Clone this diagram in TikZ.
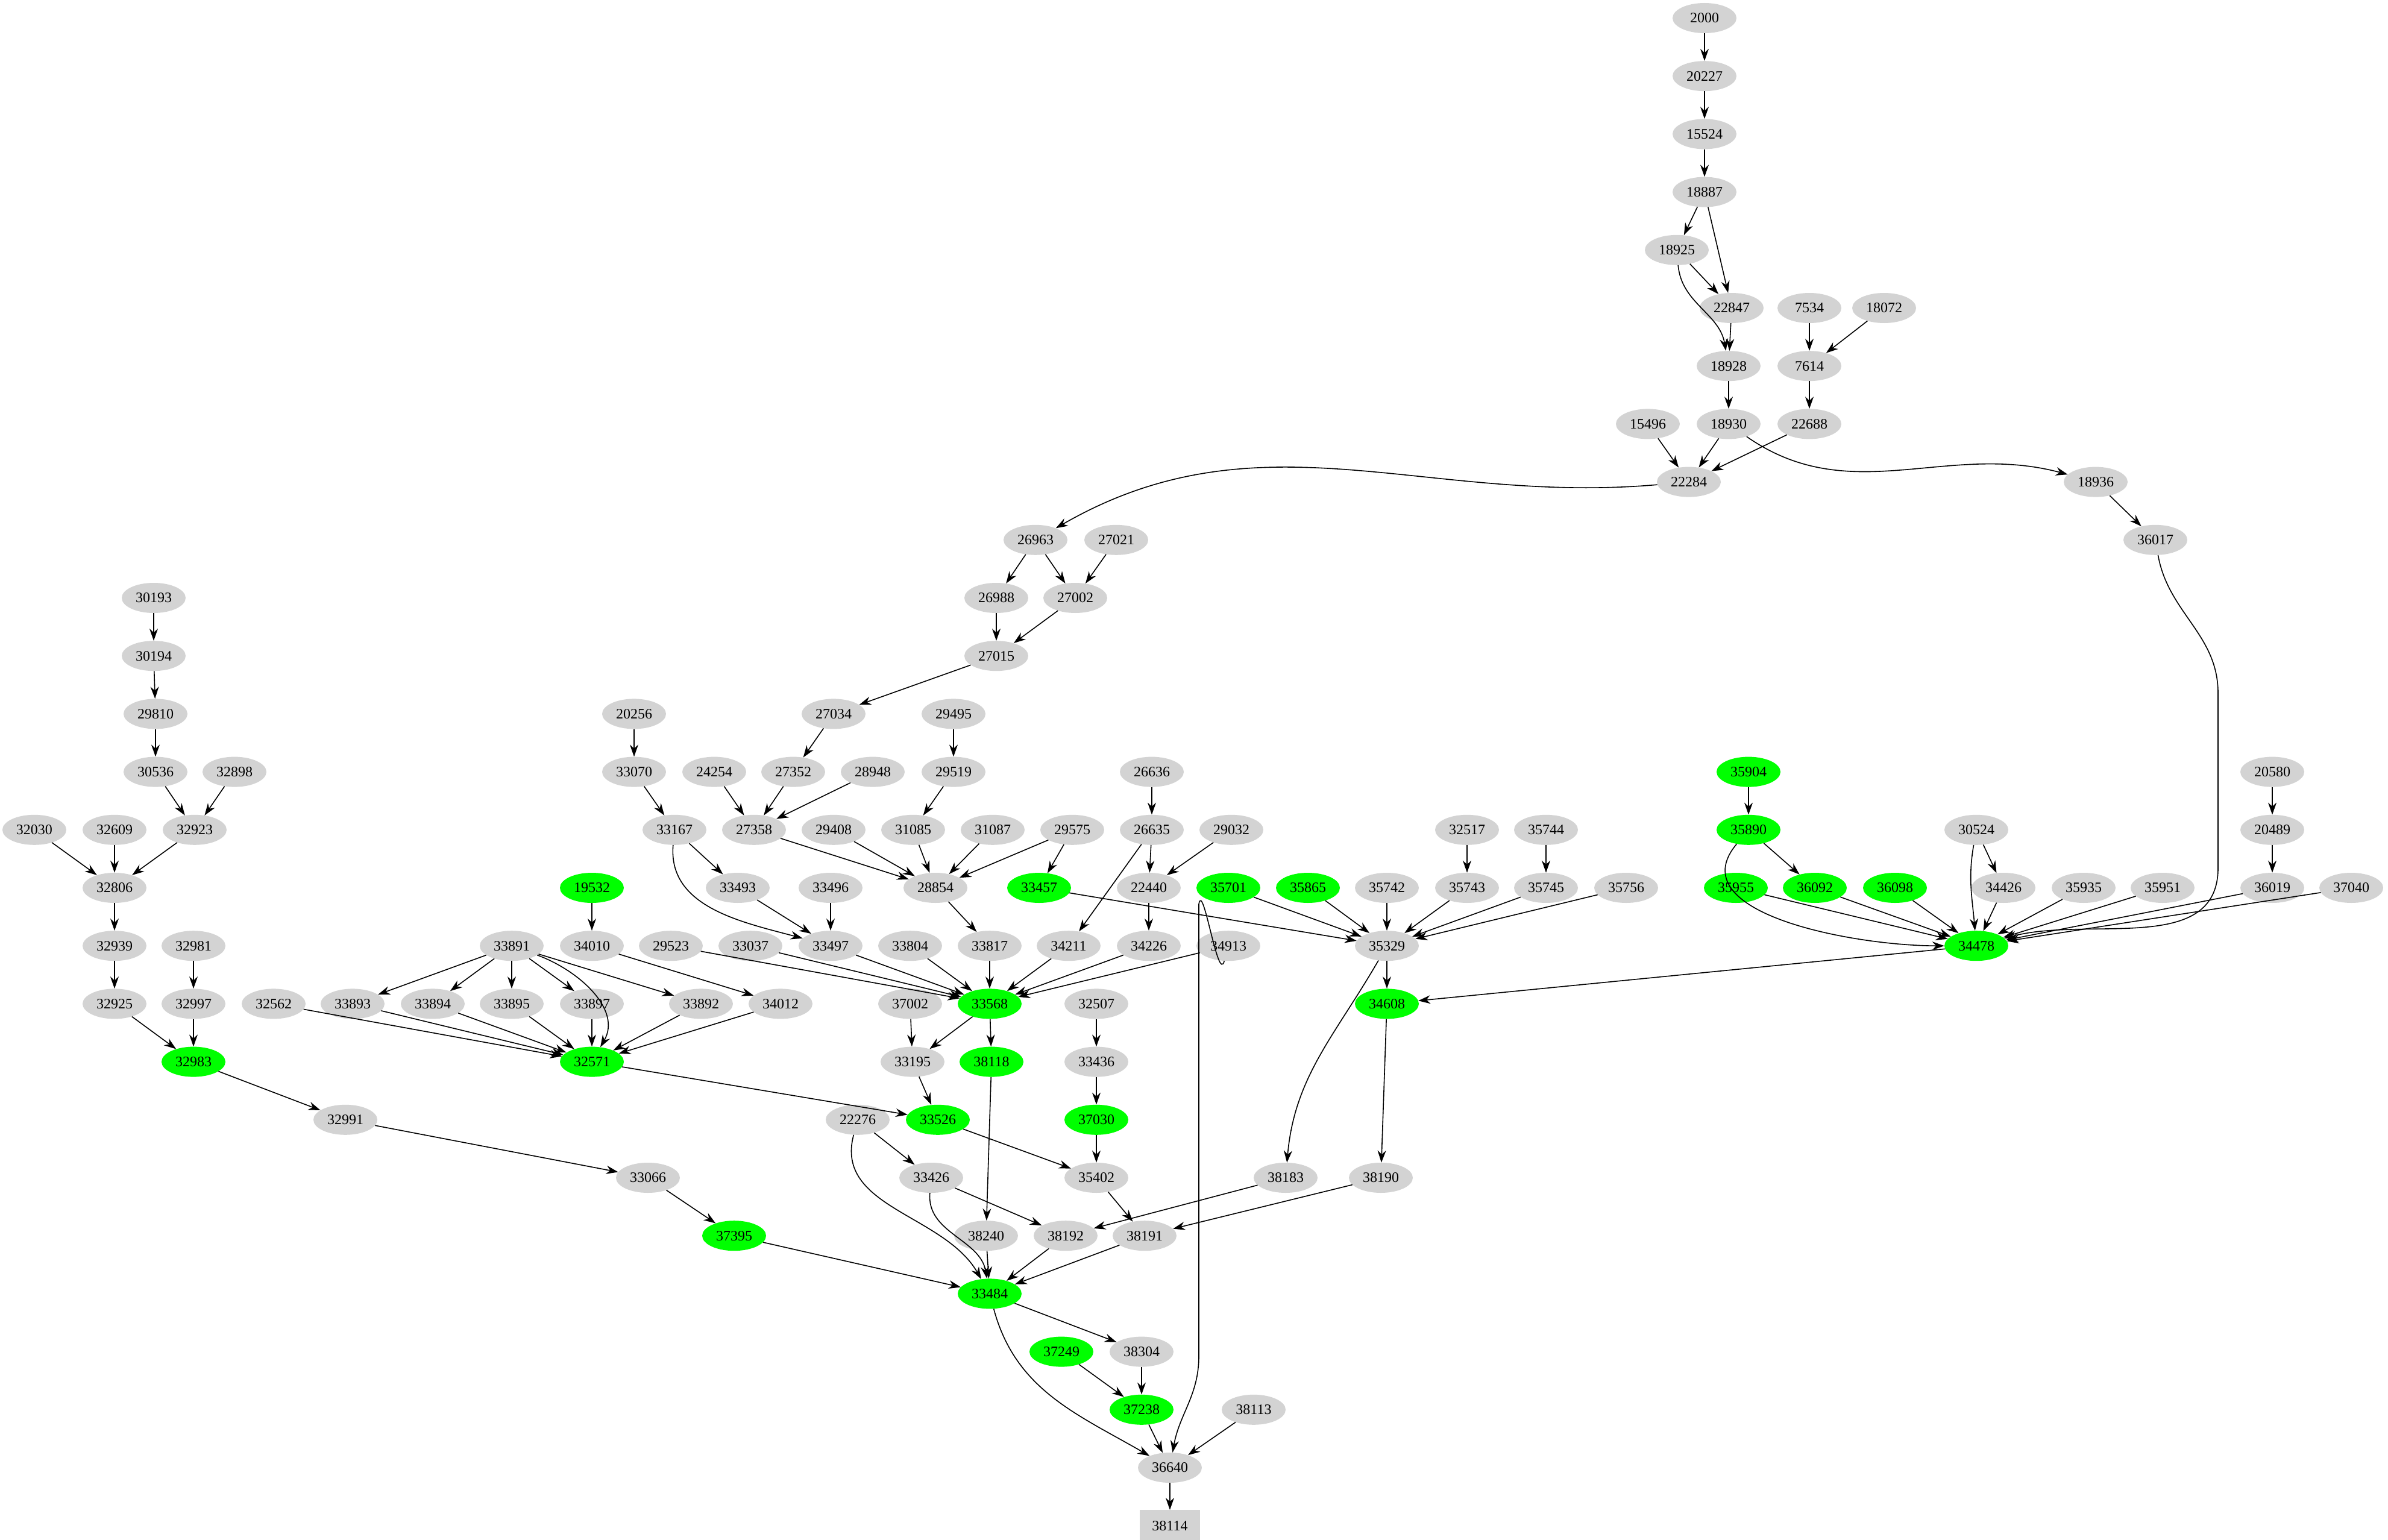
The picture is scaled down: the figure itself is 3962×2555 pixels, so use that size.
\documentclass[tikz,border=0pt]{standalone}
\usepackage{fontspec}
\setmainfont{Liberation Serif}
\usetikzlibrary{shapes.geometric,arrows.meta}
\tikzset{
 base/.style={ellipse,inner sep=0pt,minimum width=106pt,minimum height=50pt,font=\fontsize{24}{28}\selectfont},
 gn/.style={base,fill={rgb,255:red,211;green,211;blue,211}},
 gr/.style={base,fill={rgb,255:red,0;green,255;blue,0}},
 bx/.style={rectangle,inner sep=0pt,minimum width=100pt,minimum height=52pt,font=\fontsize{24}{28}\selectfont,fill={rgb,255:red,211;green,211;blue,211}},
 e/.style={-{Stealth[length=20pt,width=14pt]},line width=1.6pt}
}
\newcommand{\N}[4]{\node[#4] (n#1) at (#2,{30+96.2*#3}) {#1};}
\begin{document}
\begin{tikzpicture}[x=1pt,y=-1pt]
\useasboundingbox (0,0) rectangle (3962,2555);
\N{2000}{2828}{0}{gn}
\N{20227}{2828}{1}{gn}
\N{15524}{2828}{2}{gn}
\N{18887}{2828}{3}{gn}
\N{18925}{2782}{4}{gn}
\N{22847}{2873}{5}{gn}
\N{7534}{3002}{5}{gn}
\N{18072}{3126}{5}{gn}
\N{18928}{2868}{6}{gn}
\N{7614}{3002}{6}{gn}
\N{15496}{2734}{7}{gn}
\N{18930}{2868}{7}{gn}
\N{22688}{3002}{7}{gn}
\N{22284}{2802}{8}{gn}
\N{18936}{3477}{8}{gn}
\N{26963}{1718}{9}{gn}
\N{27021}{1852}{9}{gn}
\N{36017}{3576}{9}{gn}
\N{30193}{255}{10}{gn}
\N{26988}{1653}{10}{gn}
\N{27002}{1784}{10}{gn}
\N{30194}{255}{11}{gn}
\N{27015}{1653}{11}{gn}
\N{29810}{258}{12}{gn}
\N{20256}{1052}{12}{gn}
\N{27034}{1383}{12}{gn}
\N{29495}{1582}{12}{gn}
\N{30536}{258}{13}{gn}
\N{32898}{389}{13}{gn}
\N{33070}{1052}{13}{gn}
\N{24254}{1185}{13}{gn}
\N{27352}{1316}{13}{gn}
\N{28948}{1448}{13}{gn}
\N{29519}{1582}{13}{gn}
\N{26636}{1911}{13}{gn}
\N{35904}{2901}{13}{gr}
\N{20580}{3770}{13}{gn}
\N{32030}{57}{14}{gn}
\N{32609}{190}{14}{gn}
\N{32923}{323}{14}{gn}
\N{33167}{1119}{14}{gn}
\N{27358}{1251}{14}{gn}
\N{29408}{1383}{14}{gn}
\N{31085}{1515}{14}{gn}
\N{31087}{1647}{14}{gn}
\N{29575}{1779}{14}{gn}
\N{26635}{1911}{14}{gn}
\N{29032}{2043}{14}{gn}
\N{32517}{2434}{14}{gn}
\N{35744}{2565}{14}{gn}
\N{35890}{2901}{14}{gr}
\N{30524}{3279}{14}{gn}
\N{20489}{3770}{14}{gn}
\N{32806}{190}{15}{gn}
\N{19532}{982}{15}{gr}
\N{33493}{1224}{15}{gn}
\N{33496}{1378}{15}{gn}
\N{28854}{1552}{15}{gn}
\N{33457}{1724}{15}{gr}
\N{22440}{1906}{15}{gn}
\N{35701}{2038}{15}{gr}
\N{35865}{2170}{15}{gr}
\N{35742}{2301}{15}{gn}
\N{35743}{2434}{15}{gn}
\N{35745}{2565}{15}{gn}
\N{35756}{2698}{15}{gn}
\N{35955}{2880}{15}{gr}
\N{36092}{3011}{15}{gr}
\N{36098}{3144}{15}{gr}
\N{34426}{3324}{15}{gn}
\N{35935}{3457}{15}{gn}
\N{35951}{3588}{15}{gn}
\N{36019}{3770}{15}{gn}
\N{37040}{3901}{15}{gn}
\N{32939}{190}{16}{gn}
\N{32981}{321}{16}{gn}
\N{33891}{849}{16}{gn}
\N{34010}{982}{16}{gn}
\N{29523}{1113}{16}{gn}
\N{33037}{1245}{16}{gn}
\N{33497}{1378}{16}{gn}
\N{33804}{1510}{16}{gn}
\N{33817}{1642}{16}{gn}
\N{34211}{1773}{16}{gn}
\N{34226}{1906}{16}{gn}
\N{34913}{2038}{16}{gn}
\N{35329}{2301}{16}{gn}
\N{34478}{3279}{16}{gr}
\N{32925}{190}{17}{gn}
\N{32997}{321}{17}{gn}
\N{32562}{454}{17}{gn}
\N{33893}{585}{17}{gn}
\N{33894}{718}{17}{gn}
\N{33895}{849}{17}{gn}
\N{33897}{982}{17}{gn}
\N{33892}{1163}{17}{gn}
\N{34012}{1295}{17}{gn}
\N{37002}{1510}{17}{gn}
\N{33568}{1642}{17}{gr}
\N{32507}{1819}{17}{gn}
\N{34608}{2301}{17}{gr}
\N{32983}{321}{18}{gr}
\N{32571}{982}{18}{gr}
\N{33195}{1514}{18}{gn}
\N{38118}{1645}{18}{gr}
\N{33436}{1819}{18}{gn}
\N{32991}{573}{19}{gn}
\N{22276}{1423}{19}{gn}
\N{33526}{1556}{19}{gr}
\N{37030}{1819}{19}{gr}
\N{33066}{1075}{20}{gn}
\N{33426}{1545}{20}{gn}
\N{35402}{1819}{20}{gn}
\N{38183}{2133}{20}{gn}
\N{38190}{2291}{20}{gn}
\N{37395}{1218}{21}{gr}
\N{38240}{1636}{21}{gn}
\N{38192}{1768}{21}{gn}
\N{38191}{1899}{21}{gn}
\N{33484}{1642}{22}{gr}
\N{37249}{1761}{23}{gr}
\N{38304}{1894}{23}{gn}
\N{37238}{1894}{24}{gr}
\N{38113}{2080}{24}{gn}
\N{36640}{1941}{25}{gn}
\N{38114}{1941}{26}{bx}
\foreach \a/\b in {2000/20227,20227/15524,15524/18887,18887/18925,18887/22847,18925/22847,22847/18928,
 18072/7614,7534/7614,18928/18930,7614/22688,15496/22284,18930/22284,22688/22284,18936/36017,
 26963/26988,26963/27002,27021/27002,26988/27015,27002/27015,27015/27034,
 30193/30194,30194/29810,29810/30536,30536/32923,32898/32923,32030/32806,32609/32806,32923/32806,
 32806/32939,32939/32925,32981/32997,32925/32983,32997/32983,32983/32991,32991/33066,33066/37395,37395/33484,
 20256/33070,33070/33167,33167/33493,27034/27352,24254/27358,27352/27358,28948/27358,27358/28854,
 29495/29519,29519/31085,31085/28854,29408/28854,31087/28854,29575/28854,29575/33457,26636/26635,
 26635/22440,26635/34211,29032/22440,22440/34226,33457/35329,
 33493/33497,33496/33497,28854/33817,19532/34010,34010/34012,
 33891/33893,33891/33894,33891/33895,33891/33897,33891/33892,
 32562/32571,33893/32571,33894/32571,33895/32571,33897/32571,33892/32571,34012/32571,32571/33526,
 29523/33568,33037/33568,33497/33568,33804/33568,33817/33568,34211/33568,34226/33568,34913/33568,
 37002/33195,33568/33195,33568/38118,33195/33526,32507/33436,33436/37030,37030/35402,33526/35402,
 35402/38191,38118/38240,22276/33426,33426/38192,38183/38192,38190/38191,38240/33484,38192/33484,
 38191/33484,33484/38304,37249/37238,38304/37238,37238/36640,38113/36640,36640/38114,
 32517/35743,35744/35745,35701/35329,35865/35329,35742/35329,35743/35329,35745/35329,35756/35329,
 35329/34608,34608/38190,34478/34608,35904/35890,35890/36092,30524/34426,
 35955/34478,36092/34478,36098/34478,34426/34478,35935/34478,35951/34478,36019/34478,37040/34478,
 20580/20489,20489/36019}
 {\draw[e] (n\a) -- (n\b);}
\draw[e] (n18925) to[out=-85,in=100] (n18928);
\draw[e] (n18930) to[out=-35,in=165] (n18936);
\draw[e] (n22284) to[out=185,in=30] (n26963);
\draw[e] (n33167) to[out=-95,in=165] (n33497);
\draw[e] (n33891) to[out=-20,in=60] (n32571);
\draw[e] (n22276) to[out=-105,in=120] (n33484);
\draw[e] (n33426) to[out=-95,in=100] (n33484);
\draw[e] (n34913) to[out=-105,in=80] (1989,1500) -- (1989,2250) to[out=-90,in=80] (n36640);
\draw[e] (n33484) to[out=-75,in=150] (n36640);
\draw[e] (n35329) to[out=-120,in=85] (n38183);
\draw[e] (n35890) to[out=-130,in=180] (n34478);
\draw[e] (n30524) to[out=-100,in=95] (n34478);
\draw[e] (n36017) to[out=-80,in=90] (3680,1150) -- (3680,1440) to[out=-90,in=15] (n34478);
\end{tikzpicture}
\end{document}
